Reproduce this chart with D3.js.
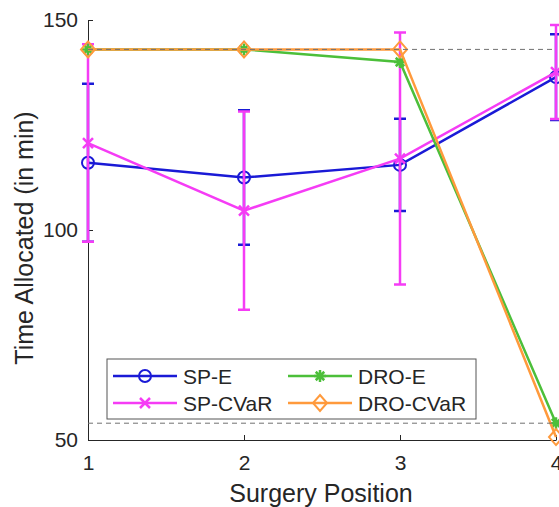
<!DOCTYPE html>
<html>
<head>
<meta charset="utf-8">
<script src="https://cdn.jsdelivr.net/npm/d3@7"></script>
<style>
body { margin: 0; background: #fff; }
text { font-family: "Liberation Sans", Arial, sans-serif; fill: #262626; }
</style>
</head>
<body>
<script>
// chart values
var positions = [1, 2, 3, 4];
var spE      = [116, 112.5, 115.5, 136.4];
var spEErr   = [18.8, 16, 11, 10.2];
var spCVaR   = [120.7, 104.6, 117, 137.6];
var spCVaRErr = [23.5, 23.6, 30, 11.2];
var droE     = [143, 143, 140, 54];
var droCVaR  = [143, 143, 143, 50.7];
var refLines = [54, 143];
var yTicks = [50, 100, 150];

var w = 559, h = 507;
var pLeft = 88, pRight = 556, pTop = 20, pBottom = 440;

var x = d3.scaleLinear().domain([1, 4]).range([pLeft, pRight]);
var y = d3.scaleLinear().domain([50, 150]).range([pBottom, pTop]);

var svg = d3.select("body").append("svg")
  .attr("width", w).attr("height", h);

var axisCol = "#262626";

// axes
var xAxis = svg.append("g").attr("transform", "translate(0," + pBottom + ")")
  .call(d3.axisBottom(x).tickValues(positions).tickFormat(d3.format("d")).tickSizeInner(-5).tickSizeOuter(0).tickPadding(15));
var yAxis = svg.append("g").attr("transform", "translate(" + pLeft + ",0)")
  .call(d3.axisLeft(y).tickValues(yTicks).tickSizeInner(-5).tickSizeOuter(0).tickPadding(10));
[xAxis, yAxis].forEach(function(g) {
  g.select(".domain").attr("stroke", axisCol).attr("stroke-width", 1);
  g.selectAll(".tick line").attr("stroke", axisCol);
  g.selectAll(".tick text").attr("font-size", 21).attr("fill", axisCol)
    .style("font-family", "Liberation Sans, Arial, sans-serif");
});

// axis titles
svg.append("text").attr("x", 321).attr("y", 502).attr("text-anchor", "middle")
  .attr("font-size", 25).text("Surgery Position");
svg.append("text").attr("transform", "translate(33,238) rotate(-90)")
  .attr("text-anchor", "middle").attr("font-size", 25).text("Time Allocated (in min)");

var series = [
  { name: "SP-E", vals: spE, err: spEErr, color: "#1a1ad6", marker: "circle" },
  { name: "SP-CVaR", vals: spCVaR, err: spCVaRErr, color: "#f53cf5", marker: "x" },
  { name: "DRO-E", vals: droE, err: null, color: "#4cbf3a", marker: "star" },
  { name: "DRO-CVaR", vals: droCVaR, err: null, color: "#ff9a3c", marker: "diamond" }
];

function drawMarker(g, type, cx, cy, color) {
  if (type === "circle") {
    g.append("circle").attr("cx", cx).attr("cy", cy).attr("r", 6)
      .attr("fill", "none").attr("stroke", color).attr("stroke-width", 2);
  } else if (type === "x") {
    g.append("path").attr("d", "M" + (cx-5) + "," + (cy-5) + "L" + (cx+5) + "," + (cy+5) +
      "M" + (cx-5) + "," + (cy+5) + "L" + (cx+5) + "," + (cy-5))
      .attr("stroke", color).attr("stroke-width", 2.5);
  } else if (type === "star") {
    var p = "";
    for (var k = 0; k < 4; k++) {
      var a = k * Math.PI / 4;
      p += "M" + (cx - 6*Math.cos(a)) + "," + (cy - 6*Math.sin(a)) + "L" + (cx + 6*Math.cos(a)) + "," + (cy + 6*Math.sin(a));
    }
    g.append("path").attr("d", p).attr("stroke", color).attr("stroke-width", 2.5);
  } else if (type === "diamond") {
    g.append("path").attr("d", "M" + cx + "," + (cy-8) + "L" + (cx+7) + "," + cy + "L" + cx + "," + (cy+8) + "L" + (cx-7) + "," + cy + "Z")
      .attr("fill", "none").attr("stroke", color).attr("stroke-width", 2);
  }
}

var line = d3.line().x(function(d, i) { return x(positions[i]); }).y(function(d) { return y(d); });

series.forEach(function(s) {
  var g = svg.append("g");
  if (s.err) {
    s.vals.forEach(function(v, i) {
      var cx = x(positions[i]);
      var y0 = y(v - s.err[i]), y1 = y(v + s.err[i]);
      g.append("path").attr("d", "M" + cx + "," + y0 + "L" + cx + "," + y1 +
        "M" + (cx-6) + "," + y0 + "L" + (cx+6) + "," + y0 +
        "M" + (cx-6) + "," + y1 + "L" + (cx+6) + "," + y1)
        .attr("stroke", s.color).attr("stroke-width", 2.5).attr("fill", "none");
    });
  }
  g.append("path").datum(s.vals).attr("d", line)
    .attr("fill", "none").attr("stroke", s.color).attr("stroke-width", 2.5);
  s.vals.forEach(function(v, i) { drawMarker(g, s.marker, x(positions[i]), y(v), s.color); });
});

// dashed reference lines
svg.selectAll(".ref").data(refLines).enter().append("line")
  .attr("x1", pLeft).attr("x2", pRight)
  .attr("y1", function(d) { return y(d); }).attr("y2", function(d) { return y(d); })
  .attr("stroke", "#707070").attr("stroke-width", 1).attr("stroke-dasharray", "5,4");

// legend
var lg = svg.append("g");
lg.append("rect").attr("x", 107).attr("y", 359).attr("width", 369).attr("height", 60)
  .attr("fill", "#fff").attr("stroke", "#555").attr("stroke-width", 1);
var legPos = [[113, 376], [288, 376], [113, 403], [288, 403]];
var legOrder = [series[0], series[2], series[1], series[3]];
legOrder.forEach(function(s, i) {
  var lx = legPos[i][0], ly = legPos[i][1];
  lg.append("line").attr("x1", lx).attr("x2", lx + 64).attr("y1", ly).attr("y2", ly)
    .attr("stroke", s.color).attr("stroke-width", 2.5);
  drawMarker(lg, s.marker, lx + 32, ly, s.color);
  lg.append("text").attr("x", lx + 70).attr("y", ly + 7.5).attr("font-size", 21).text(s.name);
});
</script>
</body>
</html>
